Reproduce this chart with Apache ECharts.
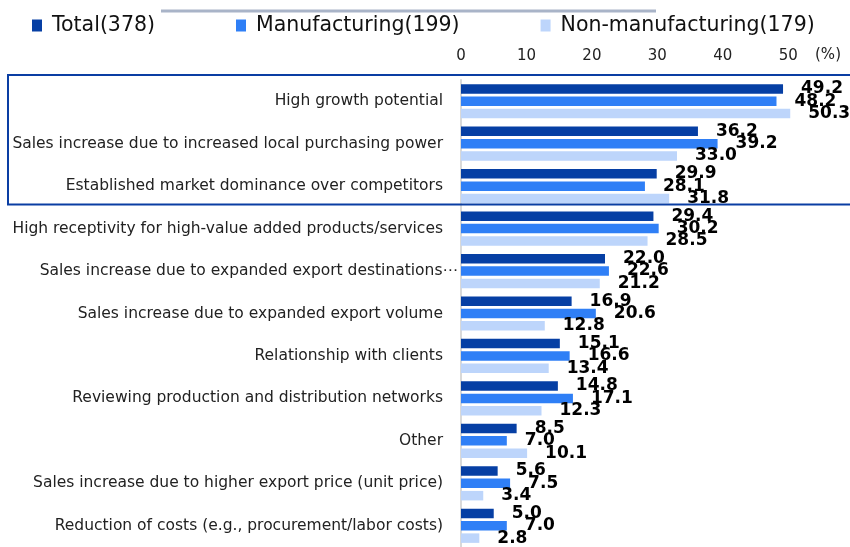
<!DOCTYPE html>
<html>
<head>
<meta charset="utf-8">
<script src="https://cdn.jsdelivr.net/npm/echarts@6/dist/echarts.min.js"></script>
<style>
  html, body { margin: 0; padding: 0; background: #fff; }
  #chart { width: 850px; height: 547px; }
</style>
</head>
<body>
<div id="chart"></div>
<script>
// data
const categories = [
  "High growth potential",
  "Sales increase due to increased local purchasing power",
  "Established market dominance over competitors",
  "High receptivity for high-value added products/services",
  "Sales increase due to expanded export destinations\u22EF",
  "Sales increase due to expanded export volume",
  "Relationship with clients",
  "Reviewing production and distribution networks",
  "Other",
  "Sales increase due to higher export price (unit price)",
  "Reduction of costs (e.g., procurement/labor costs)"
];
const seriesNames = ["Total(378)", "Manufacturing(199)", "Non-manufacturing(179)"];
const totalValues = [49.2, 36.2, 29.9, 29.4, 22.0, 16.9, 15.1, 14.8, 8.5, 5.6, 5.0];
const manufacturingValues = [48.2, 39.2, 28.1, 30.2, 22.6, 20.6, 16.6, 17.1, 7.0, 7.5, 7.0];
const nonManufacturingValues = [50.3, 33.0, 31.8, 28.5, 21.2, 12.8, 13.4, 12.3, 10.1, 3.4, 2.8];
const colors = ["#063fa4", "#2f7ff6", "#bdd5fb"];

const font = "DejaVu Sans, Verdana, sans-serif";
const chart = echarts.init(document.getElementById("chart"));

const makeSeries = (name, values, color) => ({
  name: name,
  type: "bar",
  data: values,
  barWidth: 9.5,
  barGap: "30%",
  itemStyle: { color: color },
  label: {
    show: true,
    position: "right",
    distance: 18,
    color: "#000",
    fontFamily: font,
    fontWeight: "bold",
    fontSize: 17,
    formatter: (p) => p.value.toFixed(1)
  },
  animation: false
});

chart.setOption({
  color: colors,
  legend: {
    left: 27,
    top: 10,
    itemWidth: 10,
    itemHeight: 12,
    itemGap: 81,
    icon: "rect",
    textStyle: { fontFamily: font, fontSize: 20.5, color: "#111", padding: [0, 0, 0, 5] },
    data: seriesNames
  },
  grid: { left: 461, right: 29, top: 80, bottom: -2, containLabel: false },
  xAxis: {
    type: "value",
    position: "top",
    min: 0,
    max: 55,
    interval: 10,
    axisLine: { show: false },
    axisTick: { show: false },
    splitLine: { show: false },
    axisLabel: {
      showMaxLabel: false,
      margin: 16,
      fontFamily: font,
      fontSize: 15,
      color: "#222"
    }
  },
  yAxis: {
    type: "category",
    inverse: true,
    data: categories.map((c, i) => i === 4
      ? { value: c, textStyle: { padding: [0, -15, 0, 0] } }
      : c),
    axisLine: { show: true, lineStyle: { color: "#d9d9d9", width: 2 } },
    axisTick: { show: false },
    axisLabel: {
      margin: 18,
      fontFamily: font,
      fontSize: 15.5,
      color: "#222"
    }
  },
  graphic: [
    {
      type: "line",
      shape: { x1: 161, y1: 11, x2: 656, y2: 11 },
      style: { stroke: "#a9b4c8", lineWidth: 3 }
    },
    {
      type: "rect",
      shape: { x: 8, y: 75, width: 860, height: 129.5 },
      style: { fill: "none", stroke: "#0a3ea3", lineWidth: 2 },
      z: 10
    },
    {
      type: "text",
      x: 828,
      y: 55,
      style: {
        text: "(%)",
        fontFamily: font,
        fontSize: 15,
        fill: "#222",
        align: "center",
        verticalAlign: "middle"
      }
    }
  ],
  series: [
    makeSeries(seriesNames[0], totalValues, colors[0]),
    makeSeries(seriesNames[1], manufacturingValues, colors[1]),
    makeSeries(seriesNames[2], nonManufacturingValues, colors[2])
  ]
});
</script>
</body>
</html>
